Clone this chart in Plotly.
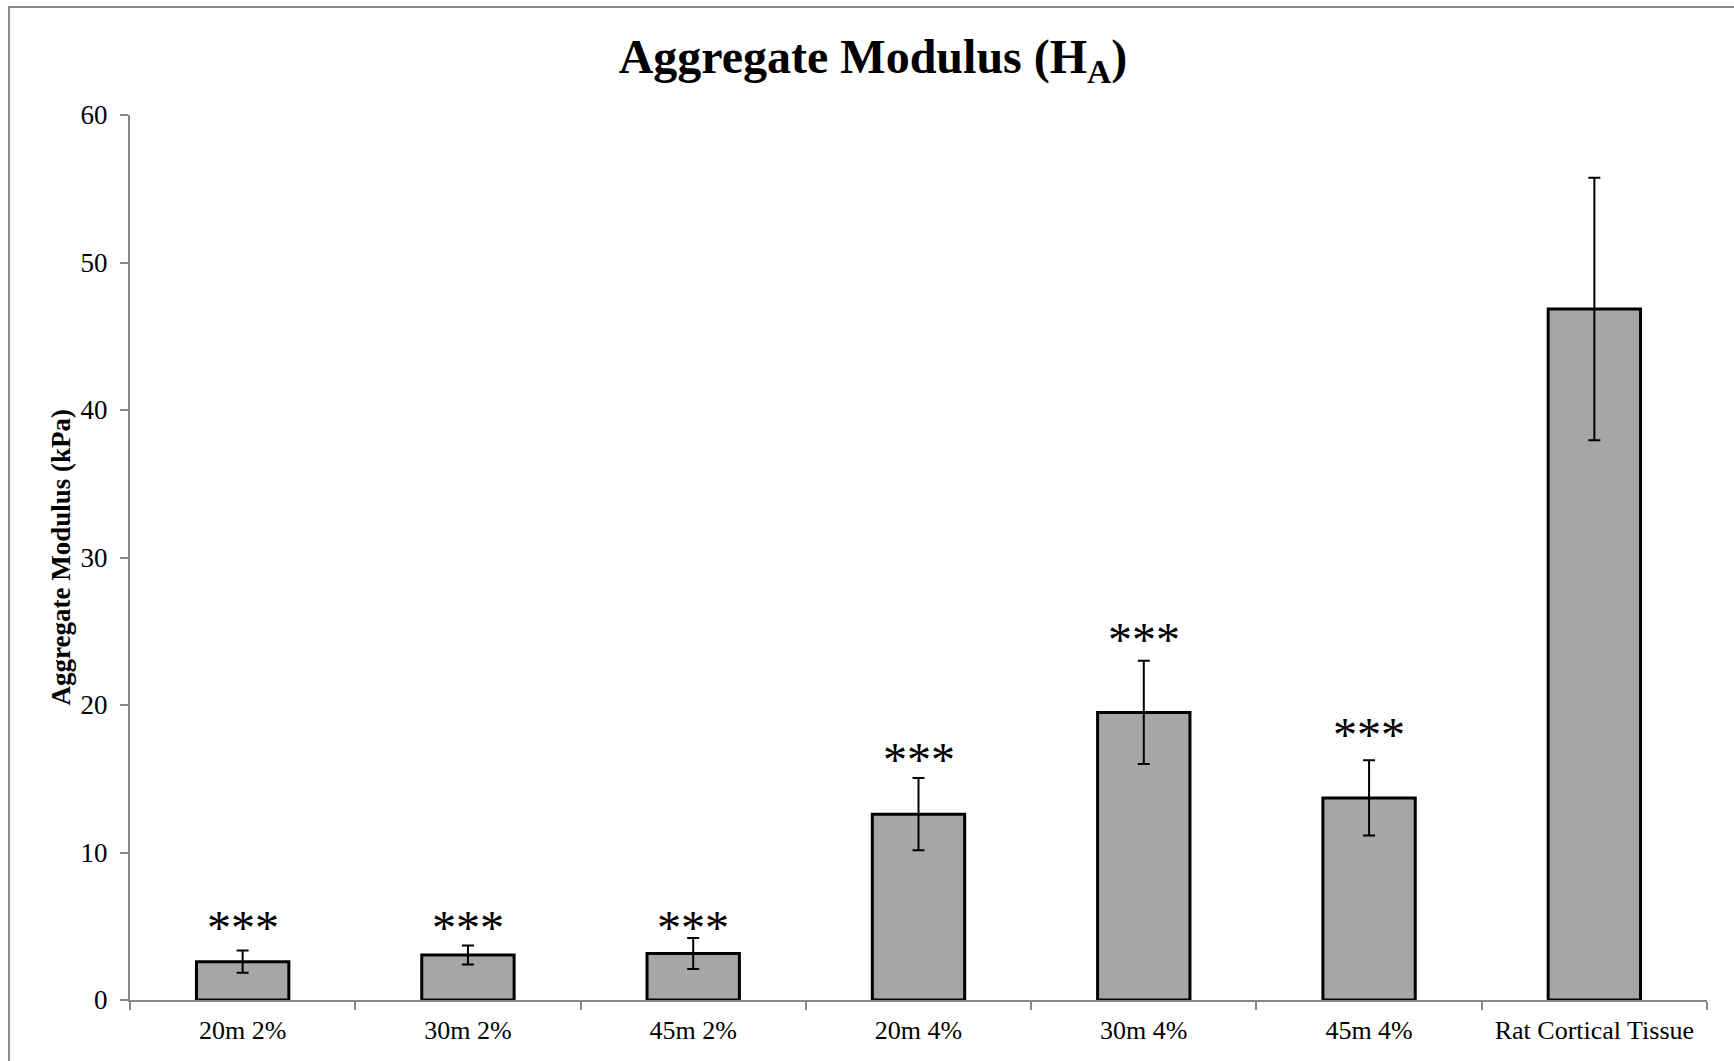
import plotly.graph_objects as go

categories = ["20m 2%", "30m 2%", "45m 2%", "20m 4%", "30m 4%", "45m 4%", "Rat Cortical Tissue"]
values = [2.6, 3.05, 3.15, 12.6, 19.5, 13.7, 46.85]
errors = [0.75, 0.65, 1.05, 2.45, 3.5, 2.55, 8.9]
sig_labels = ["***", "***", "***", "***", "***", "***", ""]
sig_y = [5.4, 5.4, 5.4, 16.8, 24.9, 18.5, None]
y_ticks = [0, 10, 20, 30, 40, 50, 60]

W, H = 1734, 1061
L, R, T, B = 130, 27, 115, 61
FONT = "Liberation Serif"
AXIS_COLOR = "#888888"

fig = go.Figure()
fig.add_trace(go.Bar(
    x=categories, y=values, width=0.41,
    marker=dict(color="#a6a6a6", line=dict(color="black", width=3)),
    error_y=dict(type="data", array=errors, visible=True, color="black", thickness=2, width=6),
    showlegend=False,
))

annotations = []
for c, s, yy in zip(categories, sig_labels, sig_y):
    if s and yy is not None:
        annotations.append(dict(x=c, y=yy, xref="x", yref="y", text=s, showarrow=False,
                                font=dict(family=FONT, size=48, color="black"),
                                xanchor="center", yanchor="middle", yshift=-7))

annotations.append(dict(x=0, y=0.5, xref="paper", yref="paper", xanchor="center", yanchor="middle",
                        xshift=-(L - 60), text="<b>Aggregate Modulus (kPa)</b>", textangle=-90,
                        showarrow=False, font=dict(family=FONT, size=27, color="black")))

fig.update_layout(
    width=W, height=H,
    margin=dict(l=L, r=R, t=T, b=B, pad=0),
    paper_bgcolor="white", plot_bgcolor="white",
    title=dict(text="<b>Aggregate Modulus (H<sub>A</sub>)</b>", x=873 / W, xanchor="center",
               y=1 - 56 / H, yanchor="middle", yref="container",
               font=dict(family=FONT, size=48, color="black")),
    annotations=annotations,
    bargap=0.59,
    shapes=[dict(type="rect", xref="paper", yref="paper",
                 x0=(9 - L) / (W - L - R), x1=(W + 20 - L) / (W - L - R),
                 y0=-(H + 20 - (H - B)) / (H - T - B), y1=1 + (T - 7) / (H - T - B),
                 line=dict(color="#8c8c8c", width=2), fillcolor="rgba(0,0,0,0)", layer="below")],
)

fig.update_xaxes(
    type="category", showline=True, linecolor=AXIS_COLOR, linewidth=2,
    ticks="outside", tickson="boundaries", ticklen=8, tickwidth=2, tickcolor=AXIS_COLOR,
    tickfont=dict(family=FONT, size=26, color="black"), showgrid=False, zeroline=False,
    ticklabelstandoff=6,
)
fig.update_yaxes(
    range=[0, 60], tickvals=y_ticks, showline=True, linecolor=AXIS_COLOR, linewidth=2,
    ticks="outside", ticklen=8, tickwidth=2, tickcolor=AXIS_COLOR,
    tickfont=dict(family=FONT, size=27, color="black"), showgrid=False, zeroline=False,
    ticklabelstandoff=7,
)

fig.write_html("out.html")
